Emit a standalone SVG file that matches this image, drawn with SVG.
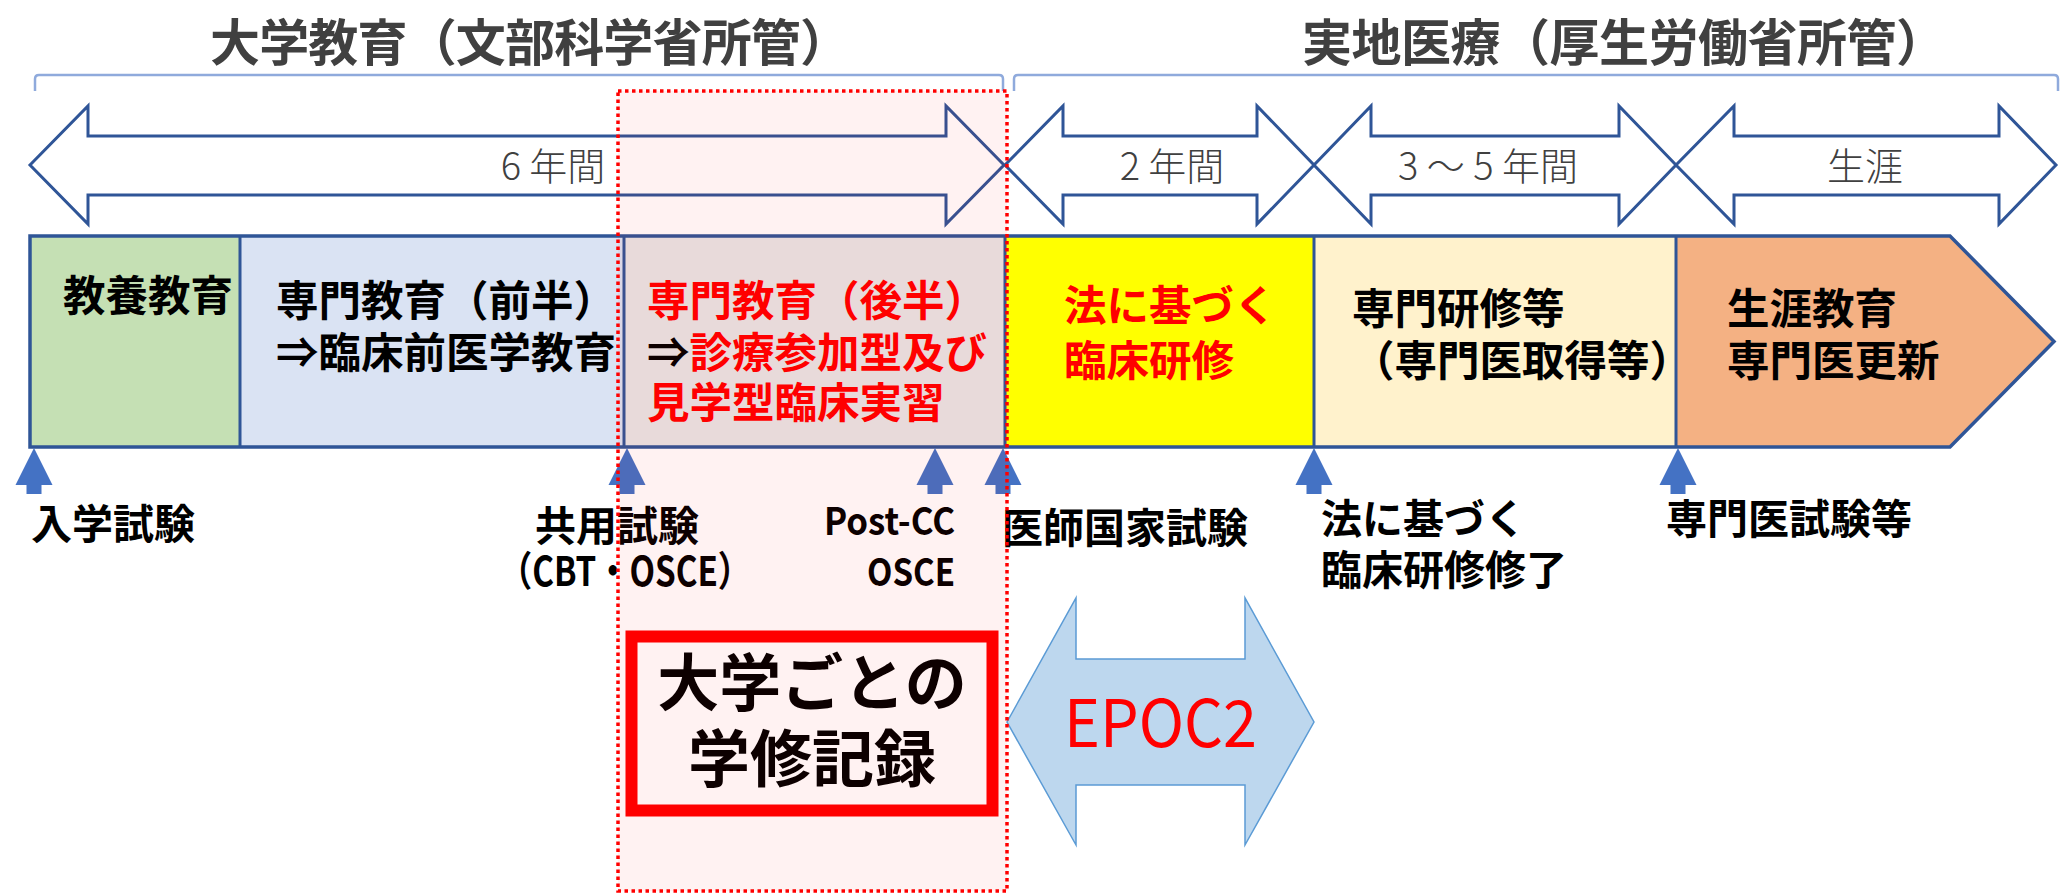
<svg xmlns="http://www.w3.org/2000/svg" xmlns:xlink="http://www.w3.org/1999/xlink" width="2060" height="893" viewBox="0 0 2060 893">
<style>
  text { font-family: "Noto Sans CJK JP", "Noto Sans", sans-serif; }
  .title { font-size: 50px; font-weight: 700; fill: #404040; }
  .brk { fill: none; stroke: #8FAADC; stroke-width: 2.5; }
  .darr { fill: #FFFFFF; stroke: #2F5597; stroke-width: 3; stroke-linejoin: miter; }
  .yr { font-size: 38px; font-weight: 300; fill: #404040; text-anchor: middle; }
  .seg { stroke: none; }
  .div { stroke: #2F5597; stroke-width: 3; }
  .bt { font-size: 42.5px; font-weight: 700; fill: #000000; }
  .red { fill: #FF0000; }
  .lbl { font-size: 41px; font-weight: 700; fill: #000000; }
  .up { fill: #4472C4; }
</style>
<defs>
  <path id="uparrow" d="M0,0 L18.5,37 L7.5,37 L7.5,46 L-7.5,46 L-7.5,37 L-18.5,37 Z"/>
</defs>

<rect x="0" y="0" width="2060" height="893" fill="#FFFFFF"/>

<g id="title-univ">
  <text class="title" x="210" y="61" textLength="640" lengthAdjust="spacing">大学教育（文部科学省所管）</text>
  <path class="brk" d="M35,91 L35,79 Q35,75 39,75 L999,75 Q1003,75 1003,79 L1003,91"/>
</g>
<g id="title-clinical">
  <text class="title" x="1302" y="61" textLength="644" lengthAdjust="spacing">実地医療（厚生労働省所管）</text>
  <path class="brk" d="M1014,91 L1014,79 Q1014,75 1018,75 L2054,75 Q2058,75 2058,79 L2058,91"/>
</g>

<g id="period-6y">
  <path class="darr" d="M30,165 L88,106 L88,136 L946,136 L946,106 L1004,165 L946,224 L946,195 L88,195 L88,224 Z"/>
  <text class="yr" x="553" y="180">6 年間</text>
</g>
<g id="period-2y">
  <path class="darr" d="M1005,165 L1063,106 L1063,136 L1257,136 L1257,106 L1314,165 L1257,224 L1257,195 L1063,195 L1063,224 Z"/>
  <text class="yr" x="1172" y="180">2 年間</text>
</g>
<g id="period-3-5y">
  <path class="darr" d="M1314,165 L1371,106 L1371,136 L1619,136 L1619,106 L1676,165 L1619,224 L1619,195 L1371,195 L1371,224 Z"/>
  <text class="yr" x="1488" y="180">3 ～ 5 年間</text>
</g>
<g id="period-life">
  <path class="darr" d="M1676,165 L1734,106 L1734,136 L1999,136 L1999,106 L2056,165 L1999,224 L1999,195 L1734,195 L1734,224 Z"/>
  <text class="yr" x="1865" y="180">生涯</text>
</g>

<g id="bar">
  <rect class="seg" x="30" y="236" width="210" height="211" fill="#C5E0B4"/>
  <rect class="seg" x="240" y="236" width="384" height="211" fill="#DAE3F3"/>
  <rect class="seg" x="624" y="236" width="381" height="211" fill="#E7E6E6"/>
  <rect class="seg" x="1005" y="236" width="309" height="211" fill="#FFFF00"/>
  <rect class="seg" x="1314" y="236" width="362" height="211" fill="#FFF2CC"/>
  <path class="seg" d="M1676,236 L1950,236 L2054,341.5 L1950,447 L1676,447 Z" fill="#F4B183"/>
  <line class="div" x1="240" y1="236" x2="240" y2="447"/>
  <line class="div" x1="624" y1="236" x2="624" y2="447"/>
  <line class="div" x1="1005" y1="236" x2="1005" y2="447"/>
  <line class="div" x1="1314" y1="236" x2="1314" y2="447"/>
  <line class="div" x1="1676" y1="236" x2="1676" y2="447"/>
  <path d="M30,236 L1950,236 L2054,341.5 L1950,447 L30,447 Z" fill="none" stroke="#2F5597" stroke-width="3.5" stroke-linejoin="miter"/>
</g>

<g id="node-liberal">
  <text class="bt" x="63" y="311">教養教育</text>
</g>
<g id="node-early">
  <text class="bt" x="276" y="316">専門教育（前半）</text>
  <text class="bt" x="276" y="368">⇒臨床前医学教育</text>
</g>
<g id="node-late">
  <text class="bt red" x="647" y="316">専門教育（後半）</text>
  <text class="bt" x="647" y="368">⇒<tspan class="red">診療参加型及び</tspan></text>
  <text class="bt red" x="647" y="418">見学型臨床実習</text>
</g>
<g id="node-residency">
  <text class="bt red" x="1064" y="321">法に基づく</text>
  <text class="bt red" x="1064" y="376">臨床研修</text>
</g>
<g id="node-specialty">
  <text class="bt" x="1352" y="324">専門研修等</text>
  <text class="bt" x="1352" y="376">（専門医取得等）</text>
</g>
<g id="node-lifelong">
  <text class="bt" x="1727" y="324">生涯教育</text>
  <text class="bt" x="1727" y="376">専門医更新</text>
</g>

<g id="connectors">
  <use xlink:href="#uparrow" href="#uparrow" class="up" x="34" y="448"/>
  <use xlink:href="#uparrow" href="#uparrow" class="up" x="627" y="448"/>
  <use xlink:href="#uparrow" href="#uparrow" class="up" x="935" y="448"/>
  <use xlink:href="#uparrow" href="#uparrow" class="up" x="1003" y="448"/>
  <use xlink:href="#uparrow" href="#uparrow" class="up" x="1314" y="448"/>
  <use xlink:href="#uparrow" href="#uparrow" class="up" x="1678" y="448"/>
</g>

<g id="label-entrance">
  <text class="lbl" x="31" y="539">入学試験</text>
</g>
<g id="label-cat">
  <text class="lbl" x="535" y="541">共用試験</text>
  <text class="lbl" x="499" y="586" textLength="252" lengthAdjust="spacingAndGlyphs">（CBT・OSCE）</text>
</g>
<g id="label-postcc">
  <text class="lbl" x="824" y="535" style="font-size:38px" textLength="131" lengthAdjust="spacingAndGlyphs">Post-CC</text>
  <text class="lbl" x="867" y="586" style="font-size:38px" textLength="88" lengthAdjust="spacingAndGlyphs">OSCE</text>
</g>
<g id="label-national">
  <text class="lbl" x="1002" y="543">医師国家試験</text>
</g>
<g id="label-residency-end">
  <text class="lbl" x="1321" y="534">法に基づく</text>
  <text class="lbl" x="1321" y="585">臨床研修修了</text>
</g>
<g id="label-specialist">
  <text class="lbl" x="1666" y="534">専門医試験等</text>
</g>

<g id="epoc2">
  <path d="M1007,722 L1076,598 L1076,659 L1245,659 L1245,598 L1314,722 L1245,845 L1245,785 L1076,785 L1076,845 Z" fill="#BDD7EE" stroke="#5B9BD5" stroke-width="1.5"/>
  <text x="1064" y="747" font-size="65" fill="#FF0000" textLength="193" lengthAdjust="spacingAndGlyphs">EPOC2</text>
</g>

<g id="record-box">
  <rect x="631.5" y="636.5" width="361" height="174" fill="none" stroke="#FF0000" stroke-width="12"/>
  <text x="812" y="706" font-size="62" font-weight="700" fill="#000000" text-anchor="middle">大学ごとの</text>
  <text x="812" y="782" font-size="62" font-weight="700" fill="#000000" text-anchor="middle">学修記録</text>
</g>

<g id="univ-record-region">
  <rect x="618" y="91" width="389" height="800" fill="#FF0000" fill-opacity="0.05" stroke="#FF0000" stroke-width="3.5" stroke-dasharray="3.5 3.5"/>
</g>
</svg>
